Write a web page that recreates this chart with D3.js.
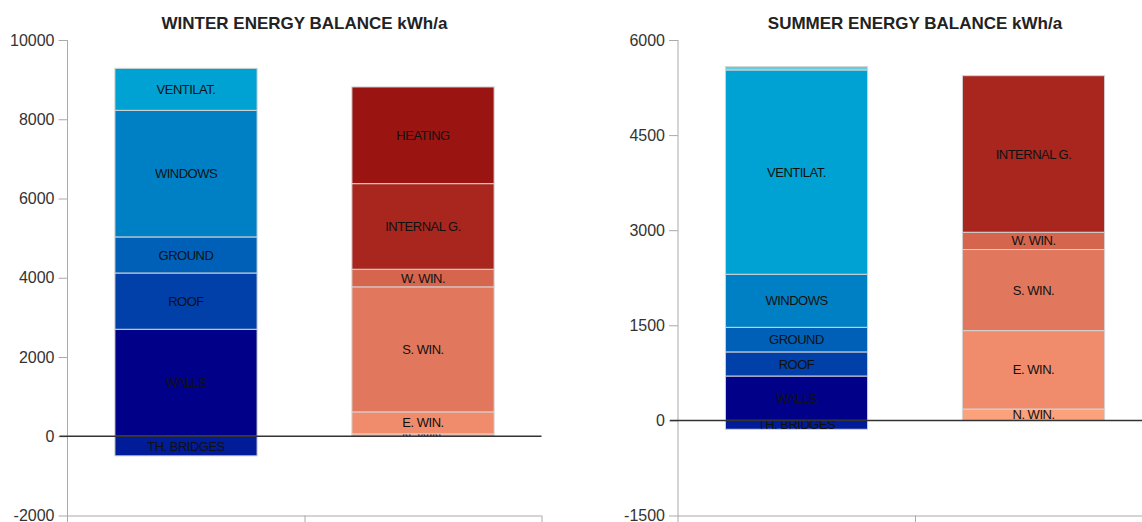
<!DOCTYPE html>
<html lang="en">
<head>
  <meta charset="UTF-8">
  <title>Energy balance kWh/a</title>
  <script src="https://d3js.org/d3.v7.min.js"></script>
  <style>
    body { margin: 0; background: #fff; }
    svg { font-family: "Liberation Sans", Arial, sans-serif; }
    .title { font-size: 17px; font-weight: bold; fill: #222; text-anchor: middle; }
    .tick text { font-size: 16px; fill: #333; }
    .tick line, .axis-line { stroke: #aaa; }
    .seg-label { font-size: 13px; fill: #111; text-anchor: middle; letter-spacing: -0.5px; }
  </style>
</head>
<body>
  <div id="chart"></div>

  <script>
    // winter: losses (left column) and gains (right column), stacked bottom up
    const winterLossLabels = ["TH. BRIDGES", "WALLS", "ROOF", "GROUND", "WINDOWS", "VENTILAT."];
    const winterLossValues = [-495, 2700, 1420, 910, 3195, 1060];
    const winterGainLabels = ["N. WIN.", "E. WIN.", "S. WIN.", "W. WIN.", "INTERNAL G.", "HEATING"];
    const winterGainValues = [60, 555, 3155, 445, 2160, 2440];
    const winterTicks = [-2000, 0, 2000, 4000, 6000, 8000, 10000];

    // summer
    const summerLossLabels = ["TH. BRIDGES", "WALLS", "ROOF", "GROUND", "WINDOWS", "VENTILAT.", ""];
    const summerLossValues = [-140, 700, 380, 388, 837, 3222, 55];
    const summerGainLabels = ["N. WIN.", "E. WIN.", "S. WIN.", "W. WIN.", "INTERNAL G."];
    const summerGainValues = [180, 1236, 1279, 273, 2469];
    const summerTicks = [-1500, 0, 1500, 3000, 4500, 6000];

    const columns = ["LOSSES", "GAINS"];

    const lossColors = ["#001c98", "#000088", "#0040a8", "#0060b8", "#0080c4", "#00a2d4", "#5fd0e2"];
    const winterGainColors = ["#f49c7a", "#f08b6b", "#e1775d", "#d5654d", "#a8261e", "#9a1511"];
    const summerGainColors = ["#fba27c", "#f08b6b", "#e1775d", "#d5654d", "#a8261e"];

    const W = 1142, H = 522;
    const svg = d3.select("#chart").append("svg")
      .attr("width", W)
      .attr("height", H);

    let clipId = 0;

    function drawChart(opt) {
      const x0 = opt.left, plotW = 474, top = 40, bottom = 515.5;

      const y = d3.scaleLinear().domain(opt.domain).range([bottom, top]);
      const x = d3.scaleBand().domain(columns).range([x0, x0 + plotW])
        .paddingInner(0.4).paddingOuter(0.2);

      const g = svg.append("g");

      g.append("text")
        .attr("class", "title")
        .attr("x", x0 + plotW / 2)
        .attr("y", 29)
        .text(opt.title);

      // stacked segments
      opt.stacks.forEach((st, ci) => {
        let pos = 0, neg = 0;
        const segs = st.values.map((v, i) => {
          let y0, y1;
          if (v < 0) { y0 = neg + v; y1 = neg; neg += v; }
          else { y0 = pos; y1 = pos + v; pos += v; }
          return { y0, y1, label: st.labels[i], color: st.colors[i] };
        });

        const bx = x(columns[ci]), bw = x.bandwidth();

        const sg = g.selectAll(null)
          .data(segs)
          .enter()
          .append("g");

        sg.append("rect")
          .attr("x", bx)
          .attr("y", d => y(d.y1))
          .attr("width", bw)
          .attr("height", d => y(d.y0) - y(d.y1))
          .attr("fill", d => d.color)
          .attr("stroke", "#d4d4d4")
          .attr("stroke-width", 1);

        sg.each(function(d) {
          const id = "clip" + (clipId++);
          d3.select(this).append("clipPath").attr("id", id)
            .append("rect")
            .attr("x", bx)
            .attr("y", y(d.y1))
            .attr("width", bw)
            .attr("height", y(d.y0) - y(d.y1));
          d3.select(this).append("text")
            .attr("class", "seg-label")
            .attr("clip-path", `url(#${id})`)
            .attr("x", bx + bw / 2)
            .attr("y", (y(d.y0) + y(d.y1)) / 2)
            .attr("dy", "0.35em")
            .text(d.label);
        });
      });

      // y axis
      const yAxis = g.append("g")
        .attr("transform", `translate(${x0},0)`)
        .call(d3.axisLeft(y).tickValues(opt.ticks).tickFormat(d => String(d)).tickSize(9).tickPadding(4));
      yAxis.select(".domain").remove();
      g.append("line")
        .attr("class", "axis-line")
        .attr("x1", x0).attr("x2", x0)
        .attr("y1", top).attr("y2", H);

      // bottom axis with ticks at column boundaries
      const xb = d3.scaleLinear().domain([0, columns.length]).range([x0, x0 + plotW]);
      const xAxis = g.append("g")
        .attr("transform", `translate(0,${bottom})`)
        .call(d3.axisBottom(xb).tickValues(d3.range(1, columns.length + 1)).tickFormat("").tickSize(8));
      xAxis.select(".domain").attr("stroke", "#aaa").attr("d", `M${x0},0.5H${x0 + plotW}`);

      // zero line
      g.append("line")
        .attr("x1", x0 - 8).attr("x2", x0 + plotW)
        .attr("y1", y(0)).attr("y2", y(0))
        .attr("stroke", "#333")
        .attr("stroke-width", 1.5);
    }

    drawChart({
      left: 67.5,
      title: "WINTER ENERGY BALANCE kWh/a",
      domain: [-2000, 10000],
      ticks: winterTicks,
      stacks: [
        { labels: winterLossLabels, values: winterLossValues, colors: lossColors },
        { labels: winterGainLabels, values: winterGainValues, colors: winterGainColors }
      ]
    });

    drawChart({
      left: 678,
      title: "SUMMER ENERGY BALANCE kWh/a",
      domain: [-1500, 6000],
      ticks: summerTicks,
      stacks: [
        { labels: summerLossLabels, values: summerLossValues, colors: lossColors },
        { labels: summerGainLabels, values: summerGainValues, colors: summerGainColors }
      ]
    });
  </script>
</body>
</html>
